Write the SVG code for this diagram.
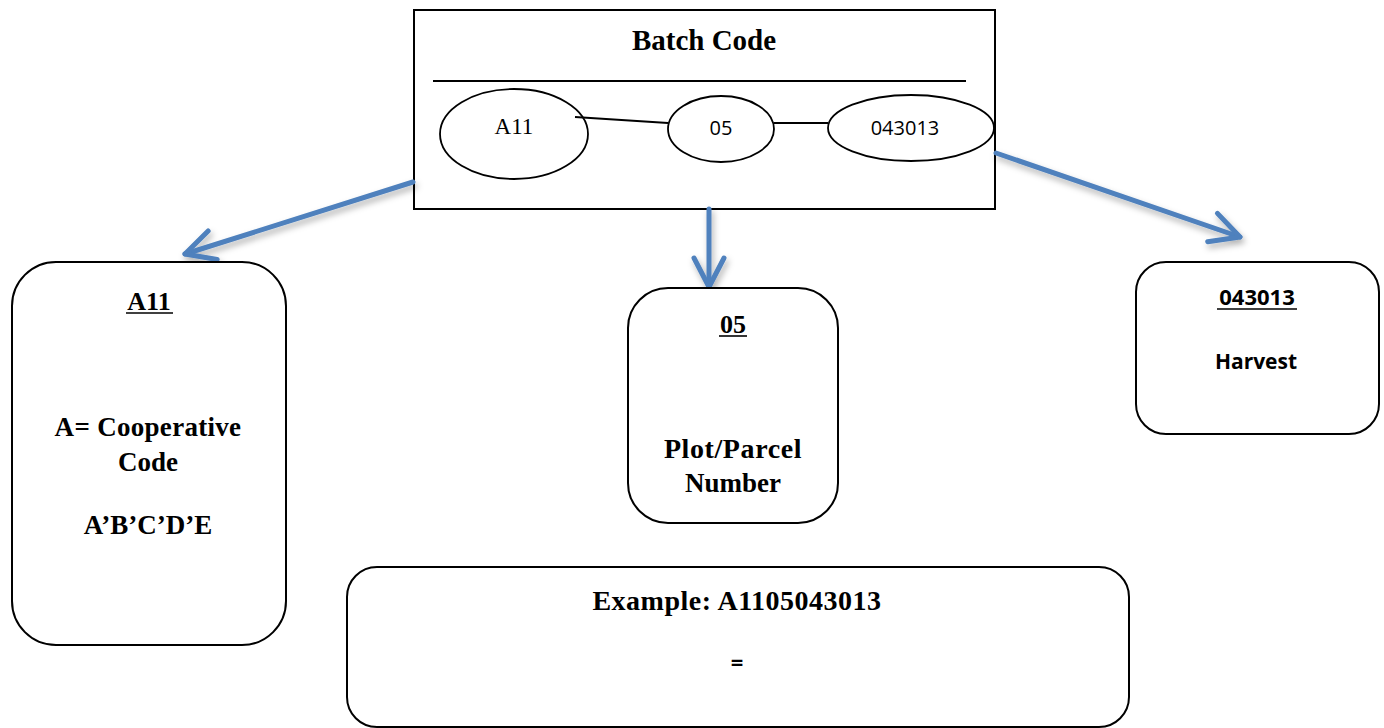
<svg xmlns="http://www.w3.org/2000/svg" width="1384" height="728" viewBox="0 0 1384 728">
<style>
.box{fill:#fff;stroke:#000;stroke-width:2}
.thin{fill:none;stroke:#000;stroke-width:1.8}
.serifB{font-family:"Liberation Serif","Times New Roman",serif;font-weight:bold;fill:#000;text-anchor:middle}
.serif{font-family:"Liberation Serif","Times New Roman",serif;fill:#000;text-anchor:middle}
.sans{font-family:"Open Sans","Noto Sans",sans-serif;fill:#000;text-anchor:middle}
.sansB{font-family:"Open Sans","Noto Sans",sans-serif;font-weight:bold;fill:#000;text-anchor:middle}
.arrow{fill:none;stroke:#4F81BD;stroke-width:5;stroke-linecap:round;stroke-linejoin:round}
.ul{stroke:#000;stroke-width:1.6}
</style>
<defs>
<filter id="sh" x="-20%" y="-20%" width="140%" height="160%">
<feDropShadow dx="2" dy="4" stdDeviation="3" flood-color="#000" flood-opacity="0.3"/>
</filter>
<marker id="vee" markerUnits="userSpaceOnUse" markerWidth="40" markerHeight="40" viewBox="-35 -20 40 40" refX="0" refY="0" orient="auto" overflow="visible">
<path d="M -29 -15 L 0 0 L -29 15" fill="none" stroke="#4F81BD" stroke-width="5" stroke-linecap="round" stroke-linejoin="round"/>
</marker>
</defs>

<g id="batch-code">
<rect class="box" x="414" y="10" width="581" height="199"/>
<text class="serifB" x="704" y="50" font-size="29">Batch Code</text>
<line class="thin" x1="433" y1="81" x2="966" y2="81"/>
<ellipse class="thin" cx="514" cy="134" rx="74" ry="45"/>
<text class="serif" x="514" y="134" font-size="23">A11</text>
<ellipse class="thin" cx="721" cy="129" rx="53" ry="33"/>
<text class="sans" x="721" y="135" font-size="20">05</text>
<ellipse class="thin" cx="911" cy="128" rx="83" ry="33"/>
<text class="sans" x="905" y="135" font-size="20">043013</text>
<line class="thin" x1="575" y1="117" x2="668" y2="123"/>
<line class="thin" x1="774" y1="123" x2="828" y2="123"/>
</g>

<g id="connectors" filter="url(#sh)">
<line class="arrow" x1="413" y1="182" x2="185" y2="254" marker-end="url(#vee)"/>
<line class="arrow" x1="709" y1="209" x2="709" y2="287" marker-end="url(#vee)"/>
<line class="arrow" x1="996" y1="153" x2="1240" y2="237" marker-end="url(#vee)"/>
</g>

<g id="a11-box">
<rect class="box" x="12" y="262" width="274" height="383" rx="44" ry="44"/>
<text class="serifB" x="149" y="310" font-size="26">A11</text>
<line class="ul" x1="126" y1="313" x2="173" y2="313"/>
<text class="serifB" x="148" y="436" font-size="27" letter-spacing="0.3">A= Cooperative</text>
<text class="serifB" x="148" y="471" font-size="27">Code</text>
<text class="serifB" x="148" y="534" font-size="27">A’B’C’D’E</text>
</g>

<g id="05-box">
<rect class="box" x="628" y="288" width="210" height="235" rx="40" ry="40"/>
<text class="serifB" x="733" y="333" font-size="26">05</text>
<line class="ul" x1="719" y1="336" x2="747" y2="336"/>
<text class="serifB" x="733" y="458" font-size="28" letter-spacing="0.6">Plot/Parcel</text>
<text class="serifB" x="733" y="492" font-size="27">Number</text>
</g>

<g id="043013-box">
<rect class="box" x="1136" y="262" width="243" height="172" rx="30" ry="30"/>
<text class="sansB" x="1257" y="305" font-size="22">043013</text>
<line class="ul" x1="1217" y1="309" x2="1297" y2="309"/>
<text class="sansB" x="1256" y="369" font-size="21">Harvest</text>
</g>

<g id="example-box">
<rect class="box" x="347" y="567" width="782" height="160" rx="30" ry="30"/>
<text class="serifB" x="737" y="610" font-size="28" letter-spacing="0.5">Example: A1105043013</text>
<text class="sansB" x="737" y="670" font-size="22">=</text>
</g>
</svg>
